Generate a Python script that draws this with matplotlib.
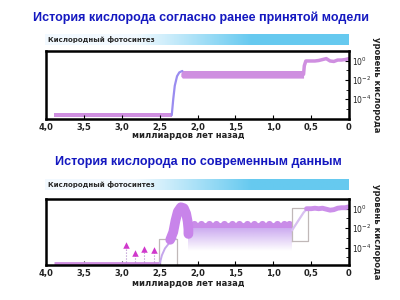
import numpy as np
import matplotlib
matplotlib.use('Agg')
import matplotlib.pyplot as plt

# ---------------- data ----------------
title_top = "История кислорода согласно ранее принятой модели"
title_bot = "История кислорода по современным данным"
bar_text = "Кислородный фотосинтез"
xlabel = "миллиардов лет назад"
ylabel = "уровень кислорода"
xticks = [4.0, 3.5, 3.0, 2.5, 2.0, 1.5, 1.0, 0.5, 0.0]
xtick_labels = ["4,0", "3,5", "3,0", "2,5", "2,0", "1,5", "1,0", "0,5", "0"]
yticks = [0, -2, -4]
ytick_labels = ["$10^{0}$", "$10^{-2}$", "$10^{-4}$"]

# Top panel (log10 O2 levels)
top_arch_age = [3.9, 2.34]
top_arch_hi = [-5.45, -5.45]
top_arch_lo = [-5.9, -5.9]
top_rise_age = [2.34, 2.32, 2.30, 2.27, 2.24, 2.2]
top_rise_val = [-5.7, -4.0, -2.6, -1.6, -1.2, -1.05]
top_prot_age = [2.22, 2.2, 0.6]
top_prot_hi = [-1.3, -1.0, -1.0]
top_prot_lo = [-1.6, -1.8, -1.8]
top_phan_age = [0.6, 0.59, 0.57, 0.5, 0.45, 0.4, 0.35, 0.3, 0.25, 0.2, 0.15, 0.1, 0.05, 0.0]
top_phan_val = [-1.4, -0.5, 0.0, 0.0, 0.0, 0.05, 0.15, 0.25, 0.0, -0.05, 0.1, 0.1, 0.15, 0.25]

# Bottom panel
bot_arch_age = [3.9, 2.5]
bot_arch_val = [-5.65, -5.65]
arrow_age = [2.95, 2.83, 2.70, 2.57]
arrow_val = [-3.7, -4.6, -4.1, -4.3]
box1_age = [2.51, 2.27]
box1_val = [-5.8, -3.1]
box1_curve_age = [2.5, 2.47, 2.43, 2.38, 2.33, 2.29]
box1_curve_val = [-5.7, -4.8, -4.1, -3.6, -3.3, -3.1]
bump_age = [2.36, 2.32, 2.29, 2.26, 2.22, 2.18, 2.15, 2.13, 2.12, 2.12]
bump_val = [-3.2, -2.4, -1.2, -0.3, 0.15, 0.05, -0.5, -1.3, -2.1, -2.6]
band_age = [2.12, 0.75]
band_top = -1.55
band_bottom = -4.4
scallop_age = [2.05, 1.95, 1.85, 1.75, 1.65, 1.55, 1.45, 1.35, 1.25, 1.15,
               1.05, 0.95, 0.86, 0.79]
box2_age = [0.75, 0.54]
box2_val = [-3.3, 0.1]
box2_curve_age = [0.75, 0.7, 0.65, 0.6, 0.56]
box2_curve_val = [-2.2, -1.6, -1.0, -0.4, -0.05]
bot_phan_age = [0.56, 0.5, 0.45, 0.4, 0.35, 0.3, 0.25, 0.2, 0.15, 0.1, 0.05, 0.0]
bot_phan_val = [0.0, 0.0, 0.05, 0.0, 0.05, -0.05, -0.15, -0.1, 0.05, 0.1, 0.1, 0.2]

# ---------------- figure ----------------
fig = plt.figure(figsize=(4, 3), dpi=100)
fig.patch.set_facecolor('white')

def px_axes(x0, y0, x1, y1):
    return fig.add_axes([x0 / 400, 1 - y1 / 300, (x1 - x0) / 400, (y1 - y0) / 300])

title_color = '#1418c0'
band_col = '#cf8fe0'
rise_col = '#9a8cf0'
bump_col = '#c884ea'
text_col = '#222222'

def gradient_bar(y0, y1):
    bax = px_axes(45, y0, 349, y1)
    n = 300
    t = np.linspace(0, 1, n)
    light = np.array([0.95, 0.98, 1.0])
    full = np.array([0.40, 0.79, 0.94])
    w = np.clip((t - 0.3) / 0.38, 0, 1)
    cols = light[None, :] * (1 - w[:, None]) + full[None, :] * w[:, None]
    bax.imshow(cols[None, :, :], aspect='auto', extent=[0, 1, 0, 1])
    bax.set_xlim(0, 1); bax.set_ylim(0, 1)
    bax.axis('off')
    bax.text(0.01, 0.5, bar_text, fontsize=5, color='#2a2a2a', va='center', ha='left',
             fontweight='bold', family='DejaVu Sans')

def style_axes(ax, ylim):
    ax.set_xlim(4.0, 0.0)
    ax.set_ylim(*ylim)
    for s in ax.spines.values():
        s.set_linewidth(1.8)
        s.set_color('black')
    ax.set_xticks(xticks)
    ax.set_xticklabels(xtick_labels, fontsize=6, fontweight='bold', color=text_col)
    ax.yaxis.tick_right()
    ax.set_yticks(yticks)
    ax.set_yticklabels(ytick_labels, fontsize=5.5, color=text_col)
    ax.set_yticks([1, -1, -3, -5], minor=True)
    ax.tick_params(axis='both', direction='in', length=3, width=0.8, pad=2)
    ax.tick_params(axis='y', which='minor', direction='in', length=2, width=0.6)
    ax.tick_params(axis='x', pad=3)

# ---- titles ----
fig.text(201 / 400, 1 - 18 / 300, title_top, ha='center', va='center', fontsize=9,
         fontweight='bold', color=title_color, family='Liberation Sans')
fig.text(198 / 400, 1 - 162 / 300, title_bot, ha='center', va='center', fontsize=9,
         fontweight='bold', color=title_color, family='Liberation Sans')

gradient_bar(34, 45)
gradient_bar(179, 190)

# ---- top panel ----
ax1 = px_axes(46, 51, 349, 119)
style_axes(ax1, (-6.1, 1.05))
ax1.fill_between(top_arch_age, top_arch_lo, top_arch_hi, color=band_col, lw=0)
ax1.plot(top_rise_age, top_rise_val, color=rise_col, lw=1.6, solid_capstyle='round')
ax1.fill_between(top_prot_age, top_prot_lo, top_prot_hi, color=band_col, lw=0)
ax1.plot(top_phan_age, top_phan_val, color=band_col, lw=2.5, solid_capstyle='round')

# ---- bottom panel ----
ax2 = px_axes(46, 199, 349, 265)
style_axes(ax2, (-5.8, 0.8))
ax2.plot(bot_arch_age, bot_arch_val, color=band_col, lw=3.5, solid_capstyle='butt')
# arrows
for a, v in zip(arrow_age, arrow_val):
    ax2.plot([a, a], [-5.45, v], color='#b088c8', lw=0.8, ls=':')
ax2.scatter(arrow_age, arrow_val, marker='^', s=22, color='#d038cc', zorder=4, lw=0)
# box 1
ax2.plot([box1_age[0], box1_age[0], box1_age[1], box1_age[1]],
         [box1_val[0], box1_val[1], box1_val[1], box1_val[0]], color='#c0b8b8', lw=0.9)
ax2.plot(box1_curve_age, box1_curve_val, color='#c4a6ec', lw=1.4)
# band with fading gradient
grad = np.linspace(1, 0, 100)[:, None]
rgba = np.zeros((100, 1, 4))
rgba[..., 0] = 0.76; rgba[..., 1] = 0.60; rgba[..., 2] = 0.93
rgba[..., 3] = grad ** 1.0
ax2.imshow(rgba, aspect='auto', extent=[band_age[0], band_age[1], band_bottom, band_top],
           zorder=1, interpolation='bilinear')
ax2.fill_between(band_age, [band_top - 0.45] * 2, [band_top] * 2, color='#c98ce8', lw=0, zorder=2)
ax2.scatter(scallop_age, [band_top] * len(scallop_age), s=26, color='#c98ce8', lw=0, zorder=2)
# bump
ax2.plot(bump_age, bump_val, color=bump_col, lw=7, solid_capstyle='round', zorder=3)
# box 2
ax2.plot([box2_age[0], box2_age[0], box2_age[1], box2_age[1], box2_age[0]],
         [box2_val[0], box2_val[1], box2_val[1], box2_val[0], box2_val[0]], color='#c0b8b8', lw=0.9)
ax2.plot(box2_curve_age, box2_curve_val, color='#d8c0f0', lw=1.6)
ax2.plot(bot_phan_age, bot_phan_val, color='#cc90ea', lw=3.5, solid_capstyle='round')

# ---- axis labels ----
fig.text(188 / 400, 1 - 136 / 300, xlabel, ha='center', va='center', fontsize=6,
         fontweight='bold', color=text_col)
fig.text(188 / 400, 1 - 284 / 300, xlabel, ha='center', va='center', fontsize=6,
         fontweight='bold', color=text_col)
fig.text(376 / 400, 1 - 85 / 300, ylabel, ha='center', va='center', fontsize=6,
         fontweight='bold', color=text_col, rotation=270)
fig.text(376 / 400, 1 - 232 / 300, ylabel, ha='center', va='center', fontsize=6,
         fontweight='bold', color=text_col, rotation=270)

fig.savefig('out.png', dpi=100)
